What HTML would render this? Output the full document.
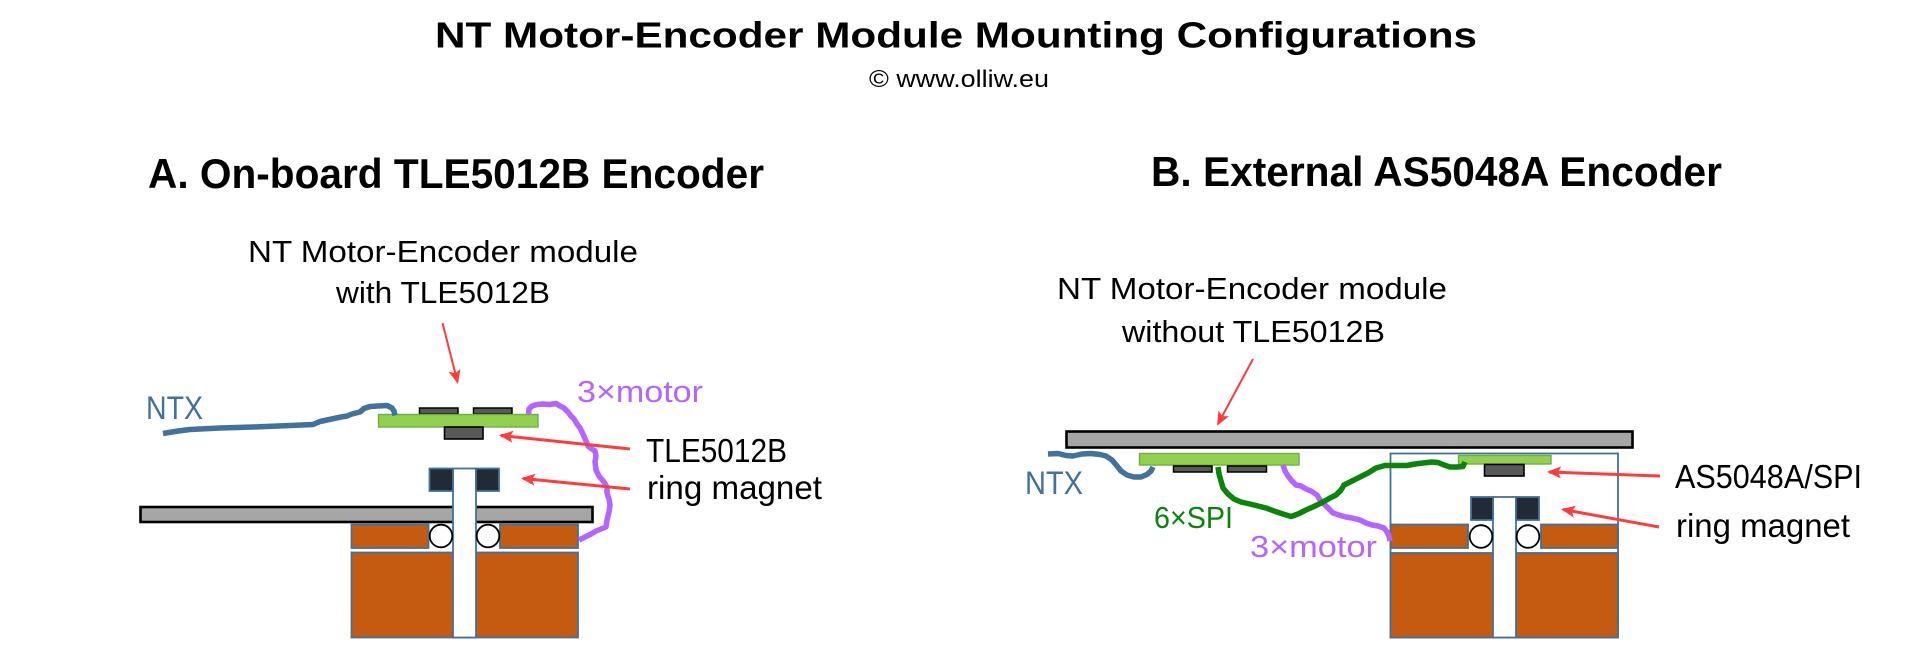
<!DOCTYPE html>
<html>
<head>
<meta charset="utf-8">
<style>
html,body{margin:0;padding:0;background:#fff;}
svg{display:block;}
text{font-family:"Liberation Sans",Arial,sans-serif;}
</style>
</head>
<body>
<svg width="1920" height="672" viewBox="0 0 1920 672" xmlns="http://www.w3.org/2000/svg">
<defs>
<marker id="ah" markerWidth="14" markerHeight="12" refX="12" refY="6" orient="auto" markerUnits="userSpaceOnUse" viewBox="0 0 14 12">
<path d="M0,0 L14,6 L0,12 L3,6 z" fill="#ff3b3b"/>
</marker>
</defs>
<rect width="1920" height="672" fill="#fff"/>

<!-- Titles -->
<text x="435" y="47.5" font-size="36" font-weight="bold" fill="#000" textLength="1042" lengthAdjust="spacingAndGlyphs">NT Motor-Encoder Module Mounting Configurations</text>
<text x="869" y="87" font-size="24" fill="#000" textLength="180" lengthAdjust="spacingAndGlyphs">© www.olliw.eu</text>

<text x="148" y="188" font-size="42" font-weight="bold" fill="#000" textLength="616" lengthAdjust="spacingAndGlyphs">A. On-board TLE5012B Encoder</text>
<text x="1151" y="186" font-size="42" font-weight="bold" fill="#000" textLength="571" lengthAdjust="spacingAndGlyphs">B. External AS5048A Encoder</text>

<!-- ============ Section A ============ -->
<text x="248" y="262" font-size="31" fill="#000" textLength="390" lengthAdjust="spacingAndGlyphs">NT Motor-Encoder module</text>
<text x="336" y="303" font-size="31" fill="#000" textLength="214" lengthAdjust="spacingAndGlyphs">with TLE5012B</text>

<!-- plate -->
<rect x="140.5" y="507" width="452" height="15" fill="#a6a6a6" stroke="#000" stroke-width="2.6"/>
<!-- motor -->
<rect x="351.5" y="524.5" width="77" height="23.5" fill="#c55a11" stroke="#41719c" stroke-width="1.8"/>
<rect x="500" y="524.5" width="78" height="23.5" fill="#c55a11" stroke="#41719c" stroke-width="1.8"/>
<rect x="351.5" y="552.5" width="226.5" height="85" fill="#c55a11" stroke="#41719c" stroke-width="1.8"/>
<rect x="453" y="468.5" width="23" height="169" fill="#fff" stroke="#41719c" stroke-width="1.8"/>
<rect x="429.5" y="468.5" width="23.5" height="22.5" fill="#222a35" stroke="#41719c" stroke-width="1.8"/>
<rect x="476" y="468.5" width="23" height="22.5" fill="#222a35" stroke="#41719c" stroke-width="1.8"/>
<circle cx="441" cy="536" r="11.3" fill="#fff" stroke="#000" stroke-width="1.8"/>
<circle cx="488" cy="536" r="11.3" fill="#fff" stroke="#000" stroke-width="1.8"/>
<!-- module -->
<rect x="419.5" y="408" width="38.5" height="6" fill="#595959" stroke="#000" stroke-width="1.5"/>
<rect x="473.5" y="408" width="38.5" height="6" fill="#595959" stroke="#000" stroke-width="1.5"/>
<rect x="378.5" y="414.5" width="159.5" height="12.5" fill="#92d050" stroke="#70ad47" stroke-width="1.4"/>
<rect x="444.5" y="427" width="38.5" height="12" fill="#595959" stroke="#000" stroke-width="1.6"/>

<!-- NTX wire A -->
<path d="M163,433.5 L178,431 L190,429.5 L220,428 L253,427 L290,425.5 L313,424.5 L320,421.5 L327,420 L334,418.5 L341,417 L347,416 L352,414 L360,412 L364,408.5 L370,406.5 L378,406 L387,405.5 L392,408 L394,411 L395,415.5" fill="none" stroke="#41719c" stroke-width="5.5" stroke-linejoin="round" stroke-linecap="butt"/>
<text x="146" y="419" font-size="32" fill="#41719c" textLength="57" lengthAdjust="spacingAndGlyphs">NTX</text>

<!-- purple wire A -->
<path d="M528.5,414 L529,409 L532,406 L537,404.5 L543,404 L550,404.5 L556,403.5 L560,406 L564,408 L568,412 L571,416 L574,419 L577,424 L580,428 L583,434 L586,441 L588,446 L592,449 L595,451 L596,456 L595,462 L596,470 L599,476 L604,482 L607,487 L607,493 L609,499 L610,505 L609,512 L607,520 L606,527 L601,529 L596,531 L591,534 L585,537 L579,540" fill="none" stroke="#b266ff" stroke-width="5.5" stroke-linejoin="round"/>
<text x="577" y="402" font-size="31" fill="#b266ff" textLength="126" lengthAdjust="spacingAndGlyphs">3×motor</text>

<!-- arrows A -->
<line x1="442.5" y1="323" x2="457.5" y2="382" stroke="#ff3b3b" stroke-width="2" marker-end="url(#ah)"/>
<line x1="630" y1="449" x2="501" y2="435.5" stroke="#ff3b3b" stroke-width="3" marker-end="url(#ah)"/>
<line x1="630" y1="489" x2="523" y2="478.5" stroke="#ff3b3b" stroke-width="3" marker-end="url(#ah)"/>

<text x="646" y="462" font-size="33" fill="#000" textLength="141" lengthAdjust="spacingAndGlyphs">TLE5012B</text>
<text x="647" y="499" font-size="33" fill="#000" textLength="175" lengthAdjust="spacingAndGlyphs">ring magnet</text>

<!-- ============ Section B ============ -->
<text x="1057" y="299" font-size="31" fill="#000" textLength="390" lengthAdjust="spacingAndGlyphs">NT Motor-Encoder module</text>
<text x="1122" y="342" font-size="31" fill="#000" textLength="263" lengthAdjust="spacingAndGlyphs">without TLE5012B</text>

<!-- plate -->
<rect x="1066.5" y="431.5" width="566" height="16" fill="#a6a6a6" stroke="#000" stroke-width="2.6"/>

<!-- housing -->
<rect x="1390.5" y="453.5" width="227.5" height="184" fill="#fff" stroke="#41719c" stroke-width="1.8"/>
<rect x="1390.5" y="524.5" width="77.5" height="23.5" fill="#c55a11" stroke="#41719c" stroke-width="1.8"/>
<rect x="1541" y="524.5" width="77" height="23.5" fill="#c55a11" stroke="#41719c" stroke-width="1.8"/>
<rect x="1390.5" y="553" width="227.5" height="84.5" fill="#c55a11" stroke="#41719c" stroke-width="1.8"/>
<rect x="1493" y="497" width="23" height="140.5" fill="#fff" stroke="#41719c" stroke-width="1.8"/>
<rect x="1471" y="497" width="22" height="23" fill="#222a35" stroke="#41719c" stroke-width="1.8"/>
<rect x="1516" y="497" width="23" height="23" fill="#222a35" stroke="#41719c" stroke-width="1.8"/>
<circle cx="1481" cy="536.5" r="11.3" fill="#fff" stroke="#000" stroke-width="1.8"/>
<circle cx="1528" cy="536.5" r="11.3" fill="#fff" stroke="#000" stroke-width="1.8"/>
<rect x="1458.5" y="455.5" width="92.5" height="8.5" fill="#92d050" stroke="#70ad47" stroke-width="1.4"/>
<rect x="1484.5" y="464.5" width="39.5" height="11.5" fill="#595959" stroke="#000" stroke-width="1.6"/>

<!-- module B -->
<rect x="1139.5" y="453.5" width="159.5" height="11.5" fill="#92d050" stroke="#70ad47" stroke-width="1.4"/>
<rect x="1173.5" y="466" width="38.5" height="6" fill="#595959" stroke="#000" stroke-width="1.5"/>
<rect x="1227.5" y="466" width="39" height="6" fill="#595959" stroke="#000" stroke-width="1.5"/>

<!-- NTX wire B -->
<path d="M1048,454 L1058,453.5 L1066,455.5 L1073,456 L1082,454 L1091,453.5 L1100,454.5 L1106,456 L1112,460 L1117,466 L1121,471 L1127,475 L1134,477 L1141,477 L1147,474.5 L1151,471 L1153,467" fill="none" stroke="#41719c" stroke-width="5.5" stroke-linejoin="round"/>
<text x="1025" y="494" font-size="32" fill="#41719c" textLength="58" lengthAdjust="spacingAndGlyphs">NTX</text>

<!-- purple wire B -->
<path d="M1283,465 L1285,471 L1288,476 L1292,481 L1296,485 L1301,486 L1306,489 L1311,491 L1317,495 L1320,500 L1324,504 L1329,509 L1333,513 L1339,515 L1346,517 L1352,518 L1360,520 L1366,523 L1372,525 L1378,526 L1384,528 L1387,532 L1389,536 L1390,541" fill="none" stroke="#b266ff" stroke-width="5.5" stroke-linejoin="round"/>

<!-- green wire B -->
<path d="M1218,467 L1219,474 L1221,481 L1223,488 L1228,494 L1234,499 L1241,502 L1250,504 L1258,506 L1266,508 L1274,511 L1283,514 L1291,516.5 L1298,514 L1306,510 L1315,506 L1323,502 L1330,498 L1336,495 L1341,490 L1344,485 L1352,481 L1360,477 L1368,473 L1376,468 L1385,465.5 L1395,465.5 L1407,465.5 L1415,464 L1423,463 L1432,462 L1438,462.5 L1444,465 L1450,467 L1457,467 L1463,466.5 L1465,462" fill="none" stroke="#0a840a" stroke-width="5.5" stroke-linejoin="round"/>

<text x="1154" y="528" font-size="31" fill="#0a840a" textLength="79" lengthAdjust="spacingAndGlyphs">6×SPI</text>
<text x="1250" y="557" font-size="31" fill="#b266ff" textLength="127" lengthAdjust="spacingAndGlyphs">3×motor</text>

<!-- arrows B -->
<line x1="1253" y1="359" x2="1218" y2="424" stroke="#ff3b3b" stroke-width="2" marker-end="url(#ah)"/>
<line x1="1660" y1="476" x2="1549" y2="472" stroke="#ff3b3b" stroke-width="3" marker-end="url(#ah)"/>
<line x1="1659" y1="527" x2="1563" y2="509.5" stroke="#ff3b3b" stroke-width="3" marker-end="url(#ah)"/>

<text x="1675" y="488" font-size="33" fill="#000" textLength="187" lengthAdjust="spacingAndGlyphs">AS5048A/SPI</text>
<text x="1676" y="537" font-size="33" fill="#000" textLength="174" lengthAdjust="spacingAndGlyphs">ring magnet</text>
</svg>
</body>
</html>
